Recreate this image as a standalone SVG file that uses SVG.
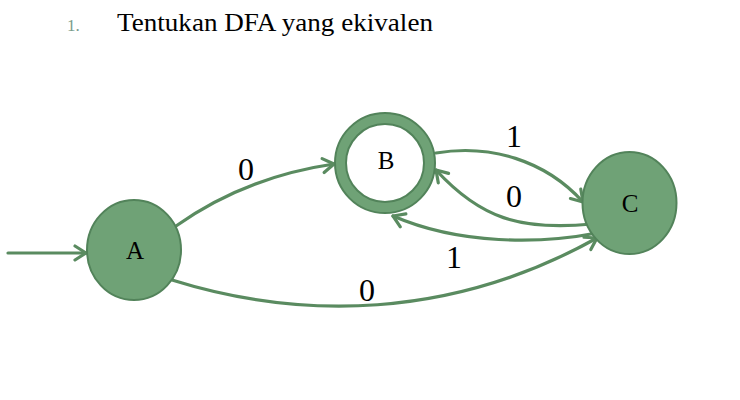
<svg xmlns="http://www.w3.org/2000/svg" width="740" height="400" viewBox="0 0 740 400">
<defs>
<style>
.node{fill:#6fa276;stroke:#52835a;stroke-width:2}
.inner{fill:#ffffff;stroke:#52835a;stroke-width:2}
.edge{fill:none;stroke:#5a8b60;stroke-width:3.2;stroke-linecap:round}
.serif{font-family:'Liberation Serif','DejaVu Serif','Times New Roman',serif}
.lbl{font-size:32px;fill:#000;text-anchor:middle}
.nl{font-size:25px;fill:#000;text-anchor:middle}
</style>
<marker id="arr" markerUnits="userSpaceOnUse" markerWidth="20" markerHeight="20" viewBox="0 0 20 20" refX="15" refY="10" orient="auto">
<path d="M4,3 L15,10 L4,17" fill="none" stroke="#5a8b60" stroke-width="3.2" stroke-linecap="round" stroke-linejoin="round"/>
</marker>
</defs>
<rect width="740" height="400" fill="#ffffff"/>
<text class="serif" x="67" y="31" font-size="17" fill="#7a9c8c">1.</text>
<text class="serif" x="117" y="31" font-size="26" fill="#000" textLength="316" lengthAdjust="spacingAndGlyphs">Tentukan DFA yang ekivalen</text>
<g id="connectors">
<path class="edge" d="M8,253 L86,253" marker-end="url(#arr)"/>
<path class="edge" d="M176,226 Q245,177 334,164" marker-end="url(#arr)"/>
<path class="edge" d="M436,153 C490,144 545,160 583,202" marker-end="url(#arr)"/>
<path class="edge" d="M592,224 C520,231 480,218 436,170" marker-end="url(#arr)"/>
<path class="edge" d="M597,233 C540,244 460,245 393,216" marker-end="url(#arr)"/>
<path class="edge" d="M172,280 C300,320 450,320 597,238" marker-end="url(#arr)"/>
</g>
<g id="labels">
<text class="serif lbl" x="246" y="180">0</text>
<text class="serif lbl" x="514" y="147">1</text>
<text class="serif lbl" x="514" y="207">0</text>
<text class="serif lbl" x="454" y="268">1</text>
<text class="serif lbl" x="367" y="301">0</text>
</g>
<g id="node-A">
<ellipse class="node" cx="134" cy="250" rx="47" ry="50"/>
<text class="serif nl" x="135" y="259">A</text>
</g>
<g id="node-B">
<circle class="node" cx="385" cy="163" r="50"/>
<circle class="inner" cx="385" cy="163" r="39"/>
<text class="serif nl" x="386" y="169">B</text>
</g>
<g id="node-C">
<ellipse class="node" cx="629.5" cy="203" rx="47" ry="51"/>
<text class="serif nl" x="630" y="212">C</text>
</g>
</svg>
